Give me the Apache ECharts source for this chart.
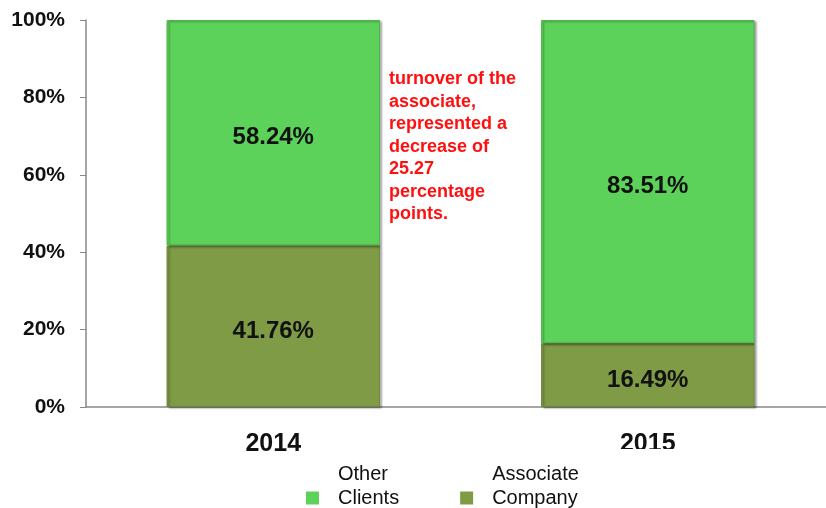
<!DOCTYPE html>
<html>
<head>
<meta charset="utf-8">
<script src="https://cdn.jsdelivr.net/npm/echarts@6/dist/echarts.min.js"></script>
<style>
html, body { margin: 0; padding: 0; background: #fff; }
#main { width: 826px; height: 508px; }
</style>
</head>
<body>
<div id="main"></div>
<script>
// data
var years = ['2014', '2015'];
var associateCompany = [41.76, 16.49];
var otherClients = [58.24, 83.51];
var yTicks = [0, 20, 40, 60, 80, 100];
var noteLines = ['turnover of the', 'associate,', 'represented a', 'decrease of', '25.27', 'percentage', 'points.'];

function barSeries(name, data, color, edge) {
	return {
		name : name,
		type : 'bar',
		stack : 'total',
		data : data,
		barWidth : '57%',
		itemStyle : {
			color : color,
			borderColor : edge,
			borderWidth : 1,
			shadowColor : 'rgba(0,0,0,0.35)',
			shadowOffsetX : 2,
			shadowOffsetY : 1,
			shadowBlur : 2
		},
		label : {
			show : true,
			position : 'inside',
			offset : [0, 5],
			formatter : function (p) {
				return p.value.toFixed(2) + '%';
			},
			color : '#111',
			fontFamily : 'Liberation Sans, Arial, sans-serif',
			fontWeight : 'bold',
			fontSize : 24
		}
	};
}

var chart = echarts.init(document.getElementById('main'), null, { renderer : 'canvas' });
var option = {
	animation : false,
	backgroundColor : '#fff',
	grid : {
		left : 86,
		right : -9,
		top : 20,
		bottom : 101,
		outerBoundsMode : 'none'
	},
	legend : {
		data : ['Other Clients', 'Associate Company'],
		left : 306,
		top : 462,
		padding : 0,
		icon : 'rect',
		itemWidth : 13,
		itemHeight : 13,
		itemGap : 61,
		itemStyle : { borderWidth : 0 },
		formatter : function (name) {
			// two lines plus an empty one so the marker sits beside the second line
			return name.replace(' ', '\n') + '\n\u00a0';
		},
		textStyle : {
			fontFamily : 'Liberation Sans, Arial, sans-serif',
			fontSize : 20,
			lineHeight : 24,
			color : '#111',
			padding : [0, 0, 0, 14]
		}
	},
	xAxis : {
		type : 'category',
		data : years,
		axisTick : { show : false },
		axisLine : { lineStyle : { color : '#888', width : 1.5 } },
		axisLabel : {
			margin : 25,
			color : '#111',
			fontFamily : 'Liberation Sans, Arial, sans-serif',
			fontWeight : 'bold',
			fontSize : 25
		}
	},
	yAxis : {
		type : 'value',
		min : yTicks[0],
		max : yTicks[yTicks.length - 1],
		interval : yTicks[1] - yTicks[0],
		splitLine : { show : false },
		axisLine : { show : true, lineStyle : { color : '#888', width : 1.5 } },
		axisTick : { show : true, length : 6, lineStyle : { color : '#888' } },
		axisLabel : {
			margin : 21,
			formatter : '{value}%',
			color : '#111',
			fontFamily : 'Liberation Sans, Arial, sans-serif',
			fontWeight : 'bold',
			fontSize : 21
		}
	},
	series : [
		barSeries('Associate Company', associateCompany, '#7F9B45', '#6E8A3A'),
		barSeries('Other Clients', otherClients, '#5DD25A', '#4CB849')
	],
	graphic : [
		{
			type : 'text',
			left : 389,
			top : 68,
			style : {
				text : noteLines.join('\n'),
				fill : '#ff1010',
				font : 'bold 18px "Liberation Sans", Arial, sans-serif',
				lineHeight : 22.5
			}
		},
		{
			// the 2015 label is cut at the bottom in the original
			type : 'rect',
			left : 600,
			top : 449,
			shape : { width : 100, height : 12 },
			style : { fill : '#fff' },
			z : 100
		}
	]
};
chart.setOption(option);
</script>
</body>
</html>
